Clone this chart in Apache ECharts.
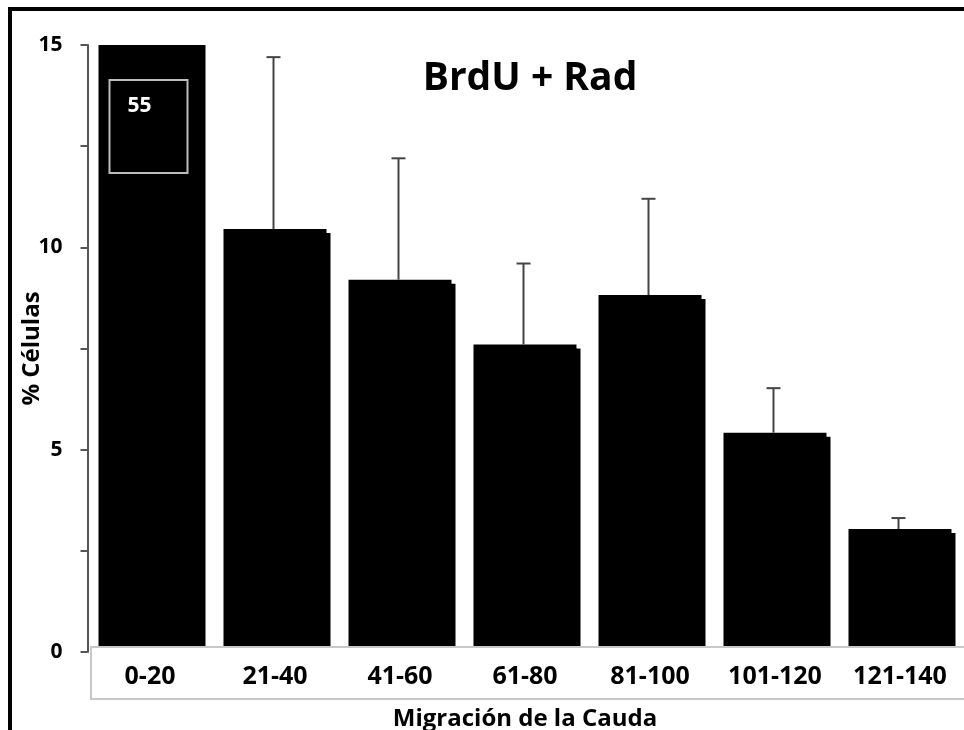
<!DOCTYPE html>
<html>
<head>
<meta charset="utf-8">
<script src="https://cdn.jsdelivr.net/npm/echarts@6/dist/echarts.min.js"></script>
<style>
  html, body { margin: 0; padding: 0; background: #fff; overflow: hidden; }
  #chart { width: 964px; height: 730px; }
</style>
</head>
<body>
<div id="chart"></div>
<script>
// Tail-migration bins and mean % of cells per bin (first bin reaches 55, beyond the axis)
const categories = ['0-20', '21-40', '41-60', '61-80', '81-100', '101-120', '121-140'];
const means = [55, 10.45, 9.2, 7.6, 8.82, 5.42, 3.04];
// Upper error (SD) above each mean; the first bin's bar is broken off the scale
const errors = [null, 4.25, 3.0, 2.0, 2.38, 1.1, 0.27];
const yTicks = [0, 5, 10, 15];

const FONT = '"Open Sans", "Noto Sans", sans-serif';
const chart = echarts.init(document.getElementById('chart'), null, { renderer: 'canvas' });

const barData = means.map((v, i) => {
  if (i === 0) {
    return {
      value: v,
      itemStyle: { shadowOffsetY: 0 },
      label: {
        show: true,
        position: [11, 35],
        align: 'left',
        verticalAlign: 'top',
        formatter: '{c}',
        color: '#fff',
        fontFamily: FONT,
        fontWeight: 'bold',
        fontSize: 21,
        lineHeight: 24,
        borderColor: '#bdbdbd',
        borderWidth: 2,
        padding: [14, 0, 0, 18],
        width: 60,
        height: 79
      }
    };
  }
  return v;
});

const errData = means.map((m, i) => [i, m, errors[i]]);

chart.setOption({
  backgroundColor: '#fff',
  animation: false,
  title: {
    text: 'BrdU + Rad',
    left: 525,
    top: 54,
    textAlign: 'center',
    textStyle: { fontFamily: FONT, fontWeight: 'bold', fontSize: 39, color: '#000' }
  },
  grid: { left: 87.5, right: 1.5, top: 45, bottom: 78, outerBoundsMode: 'none', containLabel: false },
  xAxis: {
    type: 'category',
    data: categories,
    z: 20,
    name: 'Migración de la Cauda',
    nameLocation: 'middle',
    nameGap: 55,
    nameMoveOverlap: false,
    nameTextStyle: { fontFamily: FONT, fontWeight: 'bold', fontSize: 24, color: '#000' },
    axisLine: { show: false },
    axisTick: { show: false },
    axisLabel: {
      margin: 12,
      fontFamily: FONT,
      fontWeight: 'bold',
      fontSize: 25,
      color: '#000'
    }
  },
  yAxis: {
    type: 'value',
    min: 0,
    max: 15,
    interval: 2.5,
    name: '% Células',
    nameLocation: 'middle',
    nameGap: 43,
    nameMoveOverlap: false,
    nameTextStyle: { fontFamily: FONT, fontWeight: 'bold', fontSize: 24, color: '#000' },
    splitLine: { show: false },
    axisLine: { show: true, lineStyle: { color: '#555', width: 2 } },
    axisTick: { show: true, inside: false, length: 7, lineStyle: { color: '#555', width: 2 } },
    axisLabel: {
      margin: 25,
      fontFamily: FONT,
      fontWeight: 'bold',
      fontSize: 21,
      color: '#000',
      formatter: v => (yTicks.indexOf(v) >= 0 ? String(v) : '')
    }
  },
  graphic: [
    {
      // white band behind the category labels
      type: 'rect',
      z: 15,
      shape: { x: 91, y: 647, width: 900, height: 52 },
      style: { fill: '#fff', stroke: '#c8c8c8', lineWidth: 2 }
    },
    {
      // outer frame (left and top edges)
      type: 'polyline',
      z: 30,
      shape: { points: [[10, 740], [10, 9], [980, 9]] },
      style: { fill: 'none', stroke: '#000', lineWidth: 4 }
    }
  ],
  series: [
    {
      type: 'bar',
      data: barData,
      barWidth: 103,
      clip: true,
      itemStyle: {
        color: '#000',
        shadowColor: '#000',
        shadowBlur: 0,
        shadowOffsetX: 4,
        shadowOffsetY: 4
      },
      z: 2
    },
    {
      type: 'custom',
      data: errData,
      z: 3,
      clip: true,
      renderItem: (params, api) => {
        const err = api.value(2);
        if (err == null || isNaN(err)) return null;
        const m = api.value(1);
        const base = api.coord([api.value(0), m]);
        const top = api.coord([api.value(0), m + err]);
        const x = base[0] - 1.5;
        const half = 7;
        const style = { stroke: '#444', lineWidth: 2 };
        return {
          type: 'group',
          children: [
            { type: 'line', shape: { x1: x, y1: base[1], x2: x, y2: top[1] }, style },
            { type: 'line', shape: { x1: x - half, y1: top[1], x2: x + half, y2: top[1] }, style }
          ]
        };
      }
    }
  ]
});
</script>
</body>
</html>
